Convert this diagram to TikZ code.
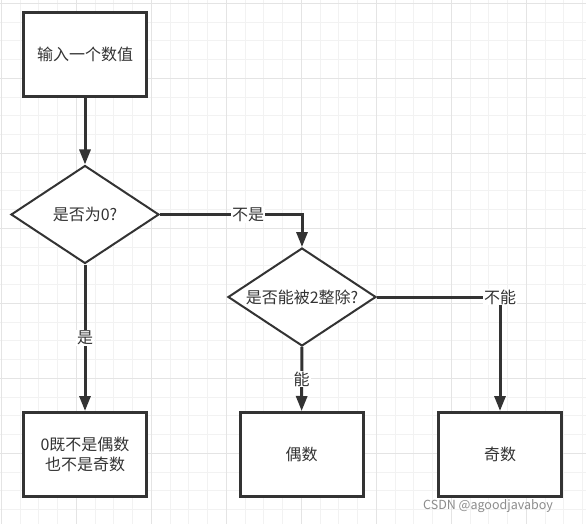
\documentclass[tikz,border=0pt]{standalone}
\usepackage{fontspec}
\newfontfamily\cjk{Noto Sans CJK SC}
\usetikzlibrary{shapes.geometric,arrows.meta}
\definecolor{ink}{HTML}{333333}
\definecolor{gridminor}{HTML}{F2F2F2}
\definecolor{gridmajor}{HTML}{E4E4E4}

\begin{document}
\begin{tikzpicture}[x=1pt, y=-1pt, >={Triangle[length=15pt,width=11pt]},
  every node/.style={font=\cjk\fontsize{16}{20}\selectfont, text=ink},
  box/.style={draw=ink, line width=3pt, fill=white, minimum width=123pt, minimum height=84pt, align=center, inner sep=0pt},
  decision/.style={diamond, aspect=1.5, draw=ink, line width=2pt, fill=white, minimum width=148pt, minimum height=98pt, inner sep=0pt},
  flow/.style={->, draw=ink, line width=3pt},
  tag/.style={fill=white, inner sep=1pt}]
  \useasboundingbox[fill=white] (0,0) rectangle (586,524);
  % grid
  \foreach \i in {0,...,31} \draw[gridminor, line width=1pt] ({1.3+18.75*\i},0) -- ++(0,524);
  \foreach \i in {0,...,27} \draw[gridminor, line width=1pt] (0,{3.3+18.75*\i}) -- ++(586,0);
  \foreach \i in {0,...,7} \draw[gridmajor, line width=1pt] ({1.3+75*\i},0) -- ++(0,524);
  \foreach \i in {0,...,6} \draw[gridmajor, line width=1pt] (0,{3.3+75*\i}) -- ++(586,0);

  \node[box] (input) at (85,54.5) {输入一个数值};
  \node[decision] (iszero) at (85,214.5) {是否为0?};
  \node[decision] (parity) at (302,297) {是否能被2整除?};
  \node[box] (zero) at (85,454.5) {0既不是偶数\\也不是奇数};
  \node[box] (even) at (301.5,454.5) {偶数};
  \node[box] (odd) at (500,454.5) {奇数};

  \draw[flow] (input) -- (iszero);
  \draw[flow] (iszero.east) -| node[tag, pos=0.31] {不是} (parity.north);
  \draw[flow] (iszero) -- node[tag] {是} (zero);
  \draw[flow] (parity) -- node[tag] {能} (even);
  \draw[flow] (parity.east) -| node[tag, pos=0.5] {不能} (odd.north);

  \node[font=\cjk\fontsize{12.5}{14}\selectfont, text=black!45] (mark) at (488,506) {CSDN @agoodjavaboy};
\end{tikzpicture}
\end{document}
